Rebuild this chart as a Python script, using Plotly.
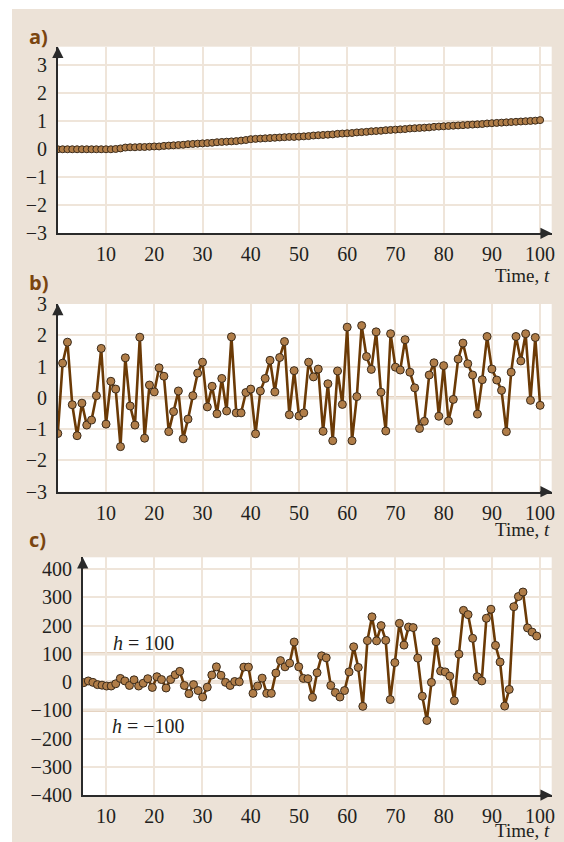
import plotly.graph_objects as go

# ---------------- data ----------------
t_ab = list(range(0, 101))
series_a = [0.00, 0.00, 0.00, 0.00, 0.00, 0.00, 0.00, 0.00, 0.00, 0.00,
            0.00, 0.00, 0.01, 0.03, 0.06, 0.07, 0.07, 0.08, 0.08, 0.09,
            0.10, 0.10, 0.12, 0.13, 0.14, 0.15, 0.16, 0.18, 0.19, 0.20,
            0.21, 0.22, 0.23, 0.25, 0.26, 0.27, 0.28, 0.29, 0.31, 0.33,
            0.36, 0.37, 0.38, 0.39, 0.40, 0.41, 0.42, 0.43, 0.44, 0.44,
            0.45, 0.46, 0.47, 0.49, 0.50, 0.51, 0.52, 0.53, 0.55, 0.56,
            0.57, 0.58, 0.60, 0.61, 0.62, 0.64, 0.65, 0.66, 0.68, 0.69,
            0.70, 0.71, 0.72, 0.74, 0.75, 0.76, 0.77, 0.78, 0.80, 0.81,
            0.82, 0.83, 0.84, 0.85, 0.86, 0.87, 0.88, 0.89, 0.90, 0.92,
            0.93, 0.94, 0.95, 0.96, 0.97, 0.98, 0.99, 1.00, 1.01, 1.02, 1.04]

series_b = [-1.14, 1.11, 1.78, -0.22, -1.21, -0.17, -0.87, -0.71, 0.07, 1.58,
            -0.84, 0.53, 0.28, -1.56, 1.28, -0.26, -0.87, 1.94, -1.29, 0.41,
            0.19, 0.96, 0.69, -1.08, -0.44, 0.22, -1.31, -0.68, 0.07, 0.79,
            1.14, -0.29, 0.37, -0.51, 0.62, -0.42, 1.95, -0.48, -0.48, 0.17,
            0.28, -1.15, 0.22, 0.62, 1.20, 0.19, 1.29, 1.80, -0.54, 0.87,
            -0.58, -0.48, 1.14, 0.67, 0.92, -1.07, 0.45, -1.37, 0.86, -0.21,
            2.26, -1.37, 0.04, 2.31, 1.32, 0.91, 2.11, 0.18, -1.06, 2.05,
            0.98, 0.89, 1.86, 0.82, 0.32, -0.98, -0.75, 0.73, 1.12, -0.59,
            1.03, -0.74, -0.05, 1.24, 1.75, 1.09, 0.73, -0.52, 0.58, 1.96,
            0.92, 0.57, 0.24, -1.08, 0.82, 1.96, 1.18, 2.05, -0.08, 1.93, -0.24]

t_c = list(range(1, 101))
series_c = [-2, 4, -1, -9, -11, -14, -14, -6, 13, 4,
            -12, 8, -14, -4, 12, -19, 19, 9, -21, 9,
            26, 38, -12, -41, -9, -30, -53, -18, 25, 54,
            24, -1, -12, 2, 1, 53, 53, -40, -14, 14,
            -40, -40, 32, 76, 54, 67, 142, 54, 13, 12,
            -54, 33, 93, 86, -12, -37, -53, -30, 36, 125,
            52, -86, 147, 231, 146, 200, 148, -62, 69, 208,
            131, 195, 193, 85, -50, -136, -1, 143, 39, 36,
            21, -66, 99, 254, 239, 155, 19, 4, 226, 258,
            130, 71, -85, -26, 267, 303, 319, 192, 177, 163]

x_ticks = [10, 20, 30, 40, 50, 60, 70, 80, 90, 100]
y_ticks_ab = [-3, -2, -1, 0, 1, 2, 3]
y_ticks_c = [-400, -300, -200, -100, 0, 100, 200, 300, 400]
h_levels = [100, -100]

# ---------------- style ----------------
W, H = 564, 842
BEIGE = "#ece2d7"
GRID = "#efe5da"
TAN = "#dcc5ad"
AXIS = "#2a2a2a"
LINE = "#6b3a06"
MFILL = "#b07d48"
MEDGE = "#3a2a1a"
TXT = "#231f20"
LAB = "#7a4510"
SERIF = "Liberation Serif"
FS = 20


def fx(px):
    return px / W


def fy(py):
    return 1 - py / H


fig = go.Figure()

fig.add_trace(go.Scatter(x=t_ab, y=series_a, xaxis="x", yaxis="y", mode="lines+markers",
                         line=dict(color=LINE, width=1.5),
                         marker=dict(size=7, color=MFILL, line=dict(color=MEDGE, width=1)),
                         showlegend=False, hoverinfo="skip"))
fig.add_trace(go.Scatter(x=t_ab, y=series_b, xaxis="x2", yaxis="y2", mode="lines+markers",
                         line=dict(color=LINE, width=2.6),
                         marker=dict(size=8, color=MFILL, line=dict(color=MEDGE, width=1)),
                         showlegend=False, hoverinfo="skip"))
# empty trace so that the visible base axes of panel c exist
fig.add_trace(go.Scatter(x=[None], y=[None], xaxis="x3", yaxis="y3", mode="markers",
                         showlegend=False, hoverinfo="skip"))
fig.add_trace(go.Scatter(x=t_c, y=series_c, xaxis="x4", yaxis="y3", mode="lines+markers",
                         line=dict(color=LINE, width=2.6),
                         marker=dict(size=8, color=MFILL, line=dict(color=MEDGE, width=1)),
                         showlegend=False, hoverinfo="skip"))

common_x = dict(tickvals=x_ticks, showgrid=True, gridcolor=GRID, gridwidth=2,
                showline=True, linecolor=AXIS, linewidth=1.6, zeroline=False, ticks="",
                tickfont=dict(family=SERIF, size=FS, color=TXT), ticklabelstandoff=2,
                automargin=False)
common_y = dict(showgrid=True, gridcolor=GRID, gridwidth=2,
                showline=True, linecolor=AXIS, linewidth=1.6, zeroline=False, ticks="",
                tickfont=dict(family=SERIF, size=FS, color=TXT), ticklabelstandoff=5,
                automargin=False)

xa_dom = [fx(57.8), fx(551.7)]
xc_dom = [fx(82.7), fx(551.7)]

fig.update_layout(
    width=W, height=H, autosize=False,
    margin=dict(l=0, r=0, t=0, b=0, pad=0),
    paper_bgcolor=BEIGE, plot_bgcolor="white",
    xaxis=dict(domain=xa_dom, range=[0, 102.4], anchor="y", **common_x),
    yaxis=dict(domain=[fy(233.3), fy(46.7)], range=[-3, 3.66], anchor="x",
               tickvals=y_ticks_ab, **common_y),
    xaxis2=dict(domain=xa_dom, range=[0, 102.4], anchor="y2", **common_x),
    yaxis2=dict(domain=[fy(491.7), fy(304.0)], range=[-3, 3.0], anchor="x2",
                tickvals=y_ticks_ab, **common_y),
    xaxis3=dict(domain=xc_dom, range=[5.17, 102.4], anchor="y3", **common_x),
    yaxis3=dict(domain=[fy(795.0), fy(557.3)], range=[-400, 442], anchor="x3",
                tickvals=y_ticks_c, **common_y),
    xaxis4=dict(domain=xc_dom, overlaying="x3", anchor="y3", range=[0.78, 103.28],
                showgrid=False, showline=False, showticklabels=False, zeroline=False,
                ticks="", automargin=False),
)

shapes = []
# white margins around the beige panel
shapes.append(dict(type="rect", xref="paper", yref="paper", x0=0, x1=1, y0=fy(9), y1=1,
                   fillcolor="white", line=dict(width=0), layer="below"))
shapes.append(dict(type="rect", xref="paper", yref="paper", x0=0, x1=fx(12), y0=0, y1=1,
                   fillcolor="white", line=dict(width=0), layer="below"))
# reference lines
shapes.append(dict(type="line", xref="x2 domain", yref="y2", x0=0, x1=1, y0=0, y1=0,
                   line=dict(color=TAN, width=3), layer="below"))
for lv in [0] + h_levels:
    shapes.append(dict(type="line", xref="x3 domain", yref="y3", x0=0, x1=1, y0=lv, y1=lv,
                       line=dict(color=TAN, width=3), layer="below"))
fig.update_layout(shapes=shapes)

ann = []
for xr, yr in [("x", "y"), ("x2", "y2"), ("x3", "y3")]:
    ann.append(dict(xref=xr + " domain", yref=yr + " domain", x=1, y=0, ax=-13, ay=0,
                    text="", showarrow=True, arrowhead=2, arrowsize=1.5, arrowwidth=1.5,
                    arrowcolor=AXIS))
    ann.append(dict(xref=xr + " domain", yref=yr + " domain", x=0, y=1, ax=0, ay=13,
                    text="", showarrow=True, arrowhead=2, arrowsize=1.5, arrowwidth=1.5,
                    arrowcolor=AXIS))

for lab, py in [("a)", 36), ("b)", 282), ("c)", 539)]:
    ann.append(dict(xref="paper", yref="paper", x=fx(27), y=fy(py), text="<b>" + lab + "</b>",
                    showarrow=False, xanchor="left", yanchor="middle",
                    font=dict(family="Open Sans", size=20, color=LAB)))

for py in [275, 529, 830]:
    ann.append(dict(xref="paper", yref="paper", x=fx(552), y=fy(py), text="Time, <i>t</i>",
                    showarrow=False, xanchor="right", yanchor="middle",
                    font=dict(family=SERIF, size=19, color=TXT)))

ann.append(dict(xref="paper", yref="paper", x=fx(111), y=fy(643), text="<i>h</i> = 100",
                showarrow=False, xanchor="left", yanchor="middle",
                font=dict(family=SERIF, size=FS, color=TXT)))
ann.append(dict(xref="paper", yref="paper", x=fx(110), y=fy(726), text="<i>h</i> = \u2212100",
                showarrow=False, xanchor="left", yanchor="middle",
                font=dict(family=SERIF, size=FS, color=TXT)))
fig.update_layout(annotations=ann)

fig.write_html("out.html", config={"displayModeBar": False},
               post_script="document.body.style.margin='0';")
